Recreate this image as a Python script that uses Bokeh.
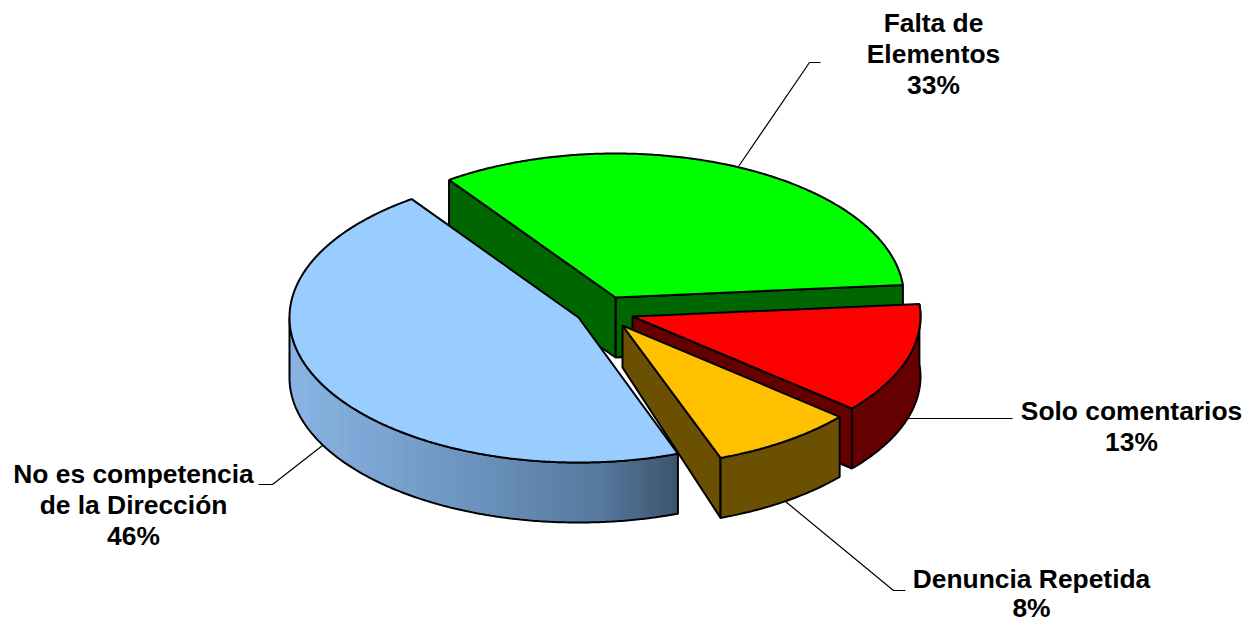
import numpy as np
from bokeh.embed import file_html
from bokeh.models import Range1d
from bokeh.plotting import figure
from bokeh.core.properties import value
from bokeh.resources import INLINE

# Data
categories = ["Falta de Elementos", "No es competencia de la Dirección", "Solo comentarios", "Denuncia Repetida"]
shares = [33.4, 45.8, 12.6, 8.2]
label_lines = [["Falta de", "Elementos"], ["No es competencia", "de la Dirección"], ["Solo comentarios"], ["Denuncia Repetida"]]

# Styles and geometry
top_colors = ["#00ff00", "#99ccff", "#ff0000", "#ffc000"]
wall_colors = ["#006600", None, "#660000", "#6a5000"]
centers = [(615, 297), (578, 317), (632, 316), (622, 325)]
radii = [(288.5, 144), (289, 145), (288, 142), (285, 141)]
apex_depths = [60, 60, 60, 42]
rim_depth = 60
start_angle = 5.0
# slices' angular order around the pie: green, blue, yellow, red
order = [0, 1, 3, 2]
# which straight edges show a cut wall: (first edge, second edge)
cut_walls = [(True, True), (False, False), (True, False), (True, False)]
label_xy = [(933, 22), (133, 473), (1131, 410), (1031, 578)]
line_heights = [31.3, 31.3, 31.3, 29]
leaders = [
    ([738, 809, 820], [166, 62, 62]),
    ([322, 272, 258], [445, 484, 484]),
    ([905, 1012], [418, 418]),
    ([785, 893, 905], [501, 590, 590]),
]
grad_x = [289, 450, 600, 677]
grad_rgb = [(138, 181, 228), (112, 152, 196), (86, 122, 158), (62, 84, 110)]

p = figure(width=1247, height=622, output_backend="svg", toolbar_location=None,
           x_range=Range1d(0, 1247), y_range=Range1d(622, 0), min_border=0)
p.axis.visible = False
p.grid.visible = False
p.outline_line_color = None

LW = 2
edge = "#000000"


def arc(i, a0, a1, dy=0.0, n=None):
    n = n or max(2, int(abs(a1 - a0) * 2))
    t = np.radians(np.linspace(a0, a1, n))
    cx, cy = centers[i]
    rx, ry = radii[i]
    return cx + rx * np.cos(t), cy - ry * np.sin(t) + dy


angle = start_angle
spans = {}
for i in order:
    spans[i] = (angle, angle + shares[i] * 3.6)
    angle += shares[i] * 3.6

for i in range(4):
    a0, a1 = spans[i]
    cx, cy = centers[i]
    ad = apex_depths[i]
    # flat cut walls
    for a, show in zip((a0, a1), cut_walls[i]):
        if show:
            ex, ey = arc(i, a, a, n=1)
            p.patch([cx, ex[0], ex[0], cx], [cy, ey[0], ey[0] + rim_depth, cy + ad],
                    fill_color=wall_colors[i], line_color=edge, line_width=LW)
    # outer rim (front half only)
    r0, r1 = max(a0, 180.0), a1
    if r1 > r0:
        if wall_colors[i] is None:
            xs, ys, cs = [], [], []
            edges = np.linspace(r0, r1, 121)
            for b0, b1 in zip(edges[:-1], edges[1:]):
                tx, ty = arc(i, b0, b1, n=2)
                bx, by = arc(i, b1, b0, dy=rim_depth, n=2)
                xs.append(list(tx) + list(bx))
                ys.append(list(ty) + list(by))
                mid = float(np.mean(tx))
                rgb = [int(np.interp(mid, grad_x, [c[k] for c in grad_rgb])) for k in range(3)]
                cs.append("#%02x%02x%02x" % tuple(rgb))
            p.patches(xs, ys, fill_color=cs, line_color=cs, line_width=1)
            tx, ty = arc(i, r0, r1)
            bx, by = arc(i, r1, r0, dy=rim_depth)
            p.patch(list(tx) + list(bx) + [tx[0]], list(ty) + list(by) + [ty[0]],
                    fill_alpha=0, line_color=edge, line_width=LW)
        else:
            tx, ty = arc(i, r0, r1)
            bx, by = arc(i, r1, r0, dy=rim_depth)
            p.patch(list(tx) + list(bx), list(ty) + list(by),
                    fill_color=wall_colors[i], line_color=edge, line_width=LW)
    # top face
    tx, ty = arc(i, a0, a1)
    p.patch([cx] + list(tx), [cy] + list(ty), fill_color=top_colors[i],
            line_color=edge, line_width=LW)

for (lx, ly) in leaders:
    p.line(lx, ly, line_color="#000000", line_width=1.2)

for i, lines in enumerate(label_lines):
    x0, y0 = label_xy[i]
    texts = lines + [f"{round(shares[i])}%"]
    ys = [y0 + k * line_heights[i] for k in range(len(texts))]
    p.text([x0] * len(texts), ys, text=texts, text_font=value("Liberation Sans"),
           text_font_style="bold", text_font_size="26.4px", text_color="#000000",
           text_align="center", text_baseline="middle")

open("out.html", "w").write(file_html(p, INLINE))
